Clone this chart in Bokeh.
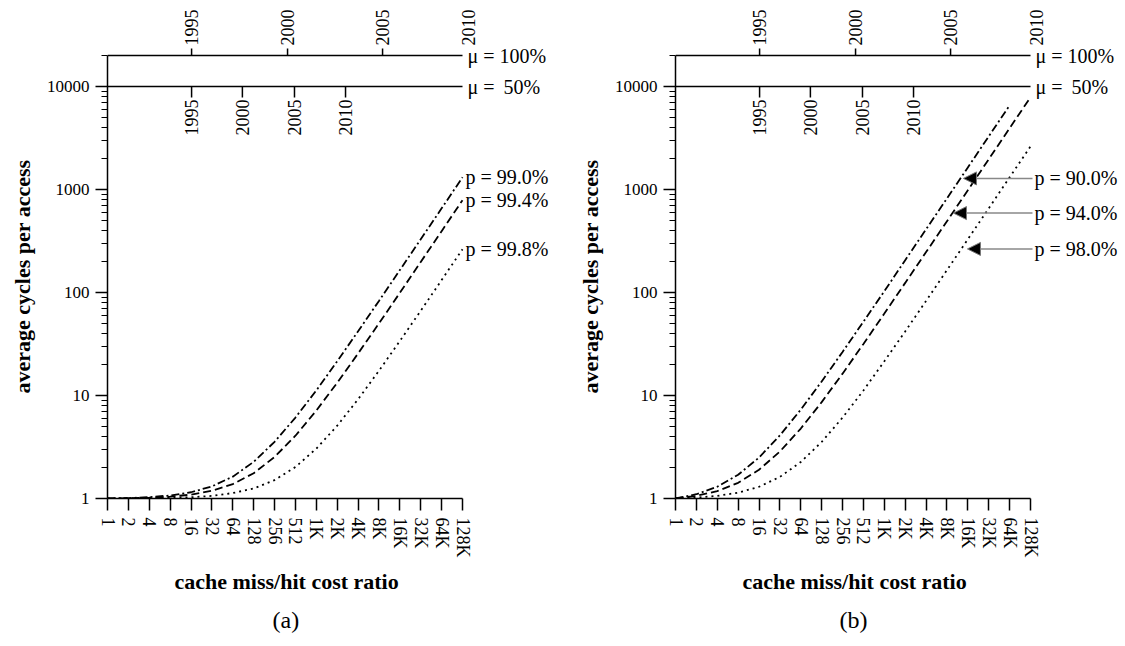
import math
from bokeh.plotting import figure
from bokeh.layouts import row
from bokeh.models import Range1d, FixedTicker, Label, Arrow, NormalHead, Title
from bokeh.embed import file_html
from bokeh.resources import INLINE

# ---------------- data ----------------
ratio = [1, 2, 4, 8, 16, 32, 64, 128, 256, 512, 1024, 2048, 4096, 8192,
         16384, 32768, 65536, 131072]
ratio_labels = ["1", "2", "4", "8", "16", "32", "64", "128", "256", "512",
                "1K", "2K", "4K", "8K", "16K", "32K", "64K", "128K"]

# panel (a)
cycles_p990 = [1.0, 1.01, 1.03, 1.07, 1.15, 1.31, 1.63, 2.27, 3.55, 6.11,
               11.2, 21.5, 42.0, 82.9, 165, 329, 656, 1312]
cycles_p994 = [1.0, 1.006, 1.018, 1.042, 1.09, 1.19, 1.38, 1.76, 2.53, 4.07,
               7.14, 13.3, 25.6, 50.1, 99.3, 198, 394, 787]
cycles_p998 = [1.0, 1.002, 1.006, 1.014, 1.03, 1.06, 1.13, 1.25, 1.51, 2.02,
               3.05, 5.09, 9.19, 17.4, 33.8, 66.5, 132, 263]
labels_a = ["p = 99.0%", "p = 99.4%", "p = 99.8%"]

# panel (b)
cycles_p900 = [1.0, 1.1, 1.3, 1.7, 2.5, 4.1, 7.3, 13.7, 26.5, 52.1,
               103, 206, 411, 820, 1639, 3278, 6554]
cycles_p940 = [1.0, 1.06, 1.18, 1.42, 1.9, 2.86, 4.78, 8.62, 16.3, 31.7,
               62.4, 124, 247, 492, 984, 1967, 3933, 7865]
cycles_p980 = [1.0, 1.02, 1.06, 1.14, 1.3, 1.62, 2.26, 3.54, 6.1, 11.2,
               21.5, 41.9, 82.9, 165, 329, 656, 1312, 2622]
labels_b = ["p = 90.0%", "p = 94.0%", "p = 98.0%"]

# year scales (cost ratio reached in a given year)
years = ["1995", "2000", "2005", "2010"]
year_ratio_mu100 = [16.3, 394, 9230, 161000]
year_ratio_mu50 = [16.3, 88, 496, 2700]
mu_labels = ["\u03bc = 100%", "\u03bc = \u200950%"]
mu_levels = [20000, 10000]

y_ticks = [1, 10, 100, 1000, 10000]
y_tick_labels = ["1", "10", "100", "1000", "10000"]

FONT = "Liberation Serif"
DASHES = ["8 3 2 3", "8 4", "2 4"]

X_MAX = ratio[-1]
Y_MAX = mu_levels[0]
PX_OCT = 355 / 17.0                  # pixels per octave on the x axis
PX_DEC = 443 / math.log10(Y_MAX)     # pixels per decade on the y axis
FRAME_W = 444
FRAME_H = 494


def make_panel(xs_list, ys_list, names, letter, letter_offset, left_border,
               arrows=None):
    x_end = 2 ** (FRAME_W / PX_OCT)
    y_end = 10 ** (FRAME_H / PX_DEC)
    p = figure(frame_width=FRAME_W, frame_height=FRAME_H, title=None,
               x_axis_type="log", y_axis_type="log",
               x_range=Range1d(1, x_end), y_range=Range1d(1, y_end),
               output_backend="svg", toolbar_location=None,
               min_border_left=left_border, min_border_right=0,
               min_border_top=4, min_border_bottom=0)
    p.grid.visible = False
    p.outline_line_color = None
    p.background_fill_color = "white"
    p.border_fill_color = "white"

    # y axis
    ya = p.yaxis[0]
    y_minor = [m * 10 ** k for k in range(4) for m in range(2, 10)] + [Y_MAX]
    ya.ticker = FixedTicker(ticks=y_ticks, minor_ticks=y_minor)
    ya.bounds = (1, Y_MAX)
    ya.major_label_overrides = dict(zip(y_ticks, y_tick_labels))
    ya.major_tick_out = 12
    ya.major_tick_in = 0
    ya.minor_tick_out = 6
    ya.minor_tick_in = 0
    ya.axis_line_width = 1.5
    ya.major_tick_line_width = 1.5
    ya.minor_tick_line_width = 1.2
    ya.major_label_text_font = FONT
    ya.major_label_text_font_size = "17px"
    ya.major_label_text_color = "black"
    ya.major_label_standoff = 6

    # x axis
    xa = p.xaxis[0]
    xa.ticker = FixedTicker(ticks=ratio, minor_ticks=[])
    xa.bounds = (1, X_MAX)
    xa.major_label_overrides = dict(zip(ratio, ratio_labels))
    xa.major_label_orientation = "vertical"
    xa.major_tick_out = 12
    xa.major_tick_in = 0
    xa.axis_line_width = 1.5
    xa.major_tick_line_width = 1.5
    xa.major_label_text_font = FONT
    xa.major_label_text_font_size = "18px"
    xa.major_label_text_color = "black"
    xa.major_label_standoff = 7

    # axis titles (as titles so that they centre on the drawn axes)
    p.add_layout(Title(text="cache miss/hit cost ratio", align="left",
                       offset=67, text_font=FONT, text_font_size="22px",
                       text_font_style="bold", text_color="black",
                       standoff=12), "below")
    p.add_layout(Title(text=letter, align="left", offset=letter_offset,
                       text_font=FONT, text_font_size="24px",
                       text_font_style="normal", text_color="black",
                       standoff=10), "below")
    p.add_layout(Title(text="average cycles per access", align="left",
                       vertical_align="top",
                       offset=105, text_font=FONT, text_font_size="22px",
                       text_font_style="bold", text_color="black",
                       standoff=13), "left")

    # mu = 100% scale (top line)
    p.segment(x0=[ratio[0]], y0=[mu_levels[0]], x1=[X_MAX], y1=[mu_levels[0]],
              line_color="black", line_width=1.5)
    top_ticks = [v for v in year_ratio_mu100 if v <= X_MAX]
    p.segment(x0=top_ticks, y0=[mu_levels[0]] * len(top_ticks),
              x1=top_ticks, y1=[mu_levels[0] * 10 ** (7 / PX_DEC)] * len(top_ticks),
              line_color="black", line_width=1.5)
    for yr, xv in zip(years, year_ratio_mu100):
        p.add_layout(Label(x=xv, y=mu_levels[0], y_offset=10, text=yr,
                           angle=math.pi / 2, text_align="left",
                           text_baseline="middle", text_font=FONT,
                           text_font_size="18px", text_color="black"))

    # mu = 50% scale at 10000
    p.segment(x0=[ratio[0]], y0=[mu_levels[1]], x1=[X_MAX], y1=[mu_levels[1]],
              line_color="black", line_width=1.5)
    p.segment(x0=year_ratio_mu50, y0=[mu_levels[1]] * 4,
              x1=year_ratio_mu50, y1=[mu_levels[1] / 10 ** (11 / PX_DEC)] * 4,
              line_color="black", line_width=1.5)
    for yr, xv in zip(years, year_ratio_mu50):
        p.add_layout(Label(x=xv, y=mu_levels[1], y_offset=-13, text=yr,
                           angle=math.pi / 2, text_align="right",
                           text_baseline="middle", text_font=FONT,
                           text_font_size="18px", text_color="black"))
    for txt, lv in zip(mu_labels, mu_levels):
        p.add_layout(Label(x=X_MAX, y=lv, x_offset=5, text=txt,
                           text_baseline="middle", text_font=FONT,
                           text_font_size="20px", text_color="black"))

    # curves
    for xs, ys, dash in zip(xs_list, ys_list, DASHES):
        p.line(xs, ys, line_color="black", line_width=1.8, line_dash=dash)

    if arrows is None:
        for xs, ys, nm in zip(xs_list, ys_list, names):
            p.add_layout(Label(x=xs[-1], y=ys[-1], x_offset=3, text=nm,
                               text_baseline="middle", text_font=FONT,
                               text_font_size="20px", text_color="black"))
    else:
        x_start, tips_x, tips_y = arrows
        for nm, tx, ty in zip(names, tips_x, tips_y):
            p.add_layout(Arrow(end=NormalHead(size=13, fill_color="black",
                                              line_color="#777777", line_width=1),
                               x_start=x_start, y_start=ty, x_end=tx, y_end=ty,
                               line_color="#888888", line_width=1.5))
            p.add_layout(Label(x=x_start, y=ty, x_offset=2, text=nm,
                               text_baseline="middle", text_font=FONT,
                               text_font_size="20px", text_color="black"))
    return p


pa = make_panel([ratio, ratio, ratio], [cycles_p990, cycles_p994, cycles_p998],
                labels_a, "(a)", 165, 107)
pb = make_panel([ratio[:len(cycles_p900)], ratio, ratio],
                [cycles_p900, cycles_p940, cycles_p980],
                labels_b, "(b)", 164, 124,
                arrows=(140000, [14170, 10170, 16170], [1282, 590, 265]))

layout = row(pa, pb)
open("out.html", "w").write(file_html(layout, INLINE))
